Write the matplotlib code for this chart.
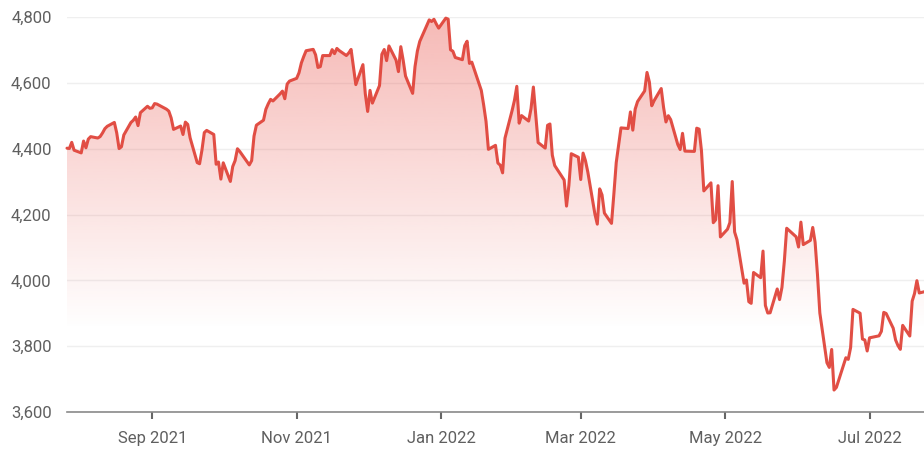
import numpy as np
import pandas as pd
import matplotlib.pyplot as plt
import matplotlib.dates as mdates
from matplotlib.colors import to_rgb

# daily closes, grouped by month
jul_2021 = [4401.46, 4400.64, 4419.15, 4395.26]
aug_2021 = [4387.16, 4423.15, 4402.66, 4429.10, 4436.52, 4432.35, 4436.75, 4447.70,
            4460.83, 4468.00, 4479.71, 4448.08, 4400.27, 4405.80, 4441.67, 4479.53,
            4486.23, 4496.19, 4470.00, 4509.37, 4528.79, 4522.68]
sep_2021 = [4524.09, 4536.95, 4535.43, 4520.03, 4514.07, 4493.28, 4458.58, 4468.73,
            4443.05, 4480.70, 4473.75, 4432.99, 4357.73, 4354.19, 4395.64, 4448.98,
            4455.48, 4443.11, 4352.63, 4359.46, 4307.54]
oct_2021 = [4357.04, 4300.46, 4345.72, 4363.55, 4399.76, 4391.34, 4361.19, 4350.65,
            4363.80, 4438.26, 4471.37, 4486.46, 4519.63, 4536.19, 4549.78, 4544.90,
            4566.48, 4574.79, 4551.68, 4596.42, 4605.38]
nov_2021 = [4613.67, 4630.65, 4660.57, 4680.06, 4697.53, 4701.70, 4685.25, 4646.71,
            4649.27, 4682.85, 4682.80, 4700.90, 4688.67, 4704.54, 4697.96, 4682.94,
            4690.70, 4701.46, 4594.62, 4655.27, 4567.00]
dec_2021 = [4513.04, 4577.10, 4538.43, 4591.67, 4686.75, 4701.21, 4667.45, 4712.02,
            4668.97, 4634.09, 4709.85, 4668.67, 4620.64, 4568.02, 4649.23, 4696.56,
            4725.79, 4791.19, 4786.35, 4793.06, 4778.73, 4766.18]
jan_2022 = [4796.56, 4793.54, 4700.58, 4696.05, 4677.03, 4670.29, 4713.07, 4726.35,
            4659.03, 4662.85, 4577.11, 4532.76, 4482.73, 4397.94, 4410.13, 4356.45,
            4349.93, 4326.51, 4431.85, 4515.55]
feb_2022 = [4546.54, 4589.38, 4477.44, 4500.53, 4483.87, 4521.54, 4587.18, 4504.08,
            4418.64, 4401.67, 4471.07, 4475.01, 4380.26, 4348.87, 4304.76, 4225.50,
            4288.70, 4384.65, 4373.94]
mar_2022 = [4306.26, 4386.54, 4363.49, 4328.87, 4201.09, 4170.70, 4277.88, 4259.52,
            4204.31, 4173.11, 4262.45, 4357.86, 4411.67, 4463.12, 4461.18, 4511.61,
            4456.24, 4520.16, 4543.06, 4575.52, 4631.60, 4602.45, 4530.41]
apr_2022 = [4545.86, 4582.64, 4525.12, 4481.15, 4500.21, 4488.28, 4412.53, 4397.45,
            4446.59, 4392.59, 4391.69, 4462.21, 4459.45, 4393.66, 4271.78, 4296.12,
            4175.20, 4183.96, 4287.50, 4131.93]
may_2022 = [4155.38, 4175.48, 4300.17, 4146.87, 4123.34, 3991.24, 4001.05, 3935.18,
            3930.08, 4023.89, 4008.01, 4088.85, 3923.68, 3900.79, 3901.36, 3973.75,
            3941.48, 3978.73, 4057.84, 4158.24, 4132.15]
jun_2022 = [4101.23, 4176.82, 4108.54, 4121.43, 4160.68, 4115.77, 4017.82, 3900.86,
            3749.63, 3735.48, 3789.99, 3666.77, 3674.84, 3764.79, 3759.89, 3795.73,
            3911.74, 3900.11, 3821.55, 3818.83, 3785.38]
jul_2022 = [3825.33, 3831.39, 3845.08, 3902.62, 3899.38, 3854.43, 3818.80, 3801.78,
            3790.38, 3863.16, 3830.85, 3936.69, 3959.90, 3998.95, 3961.63, 3966.84,
            3921.05, 4023.61]

# trading days (market holidays removed)
holidays = ['2021-09-06', '2021-11-25', '2021-12-24', '2022-01-17', '2022-02-21',
            '2022-04-15', '2022-05-30', '2022-06-20', '2022-07-04']
days = pd.bdate_range('2021-07-27', '2022-07-27')
days = days[~days.isin(pd.to_datetime(holidays))]

closes = np.array(jul_2021 + aug_2021 + sep_2021 + oct_2021 + nov_2021 + dec_2021 +
                  jan_2022 + feb_2022 + mar_2022 + apr_2022 + may_2022 + jun_2022 + jul_2022)
x = mdates.date2num(days.to_pydatetime())

y_ticks = [3600, 3800, 4000, 4200, 4400, 4600, 4800]
y_labels = ['3,600', '3,800', '4,000', '4,200', '4,400', '4,600', '4,800']

plt.rcParams['font.family'] = ['Roboto', 'DejaVu Sans']

line_color = '#e0453b'
fig = plt.figure(figsize=(9.24, 4.58), dpi=100)
ax = fig.add_axes([67 / 924, 1 - 412 / 458, 1 - 67 / 924, 395 / 458])

y_min, y_max = 3600, 4800
x_lo = x[0]
x_hi = mdates.date2num(pd.Timestamp('2022-07-24'))

# gradient under the line: pink at the top fading to white near the bottom
h = 300
rows = np.linspace(y_min, y_max, h)
alpha = np.clip((rows - 3850) / (y_max - 3850), 0, 1) * 0.42
grad = np.zeros((h, 1, 4))
grad[:, 0, :3] = to_rgb('#ea5a52')
grad[:, 0, 3] = alpha
img = ax.imshow(grad, extent=[x[0], x[-1], y_min, y_max], origin='lower',
                aspect='auto', interpolation='bilinear', zorder=1)
area = ax.fill_between(x, closes, y_min, color='none', lw=0)
img.set_clip_path(area.get_paths()[0], transform=ax.transData)

ax.plot(x, closes, color=line_color, lw=2.2, zorder=3, clip_on=False,
        solid_joinstyle='round', solid_capstyle='round', alpha=0.95)

ax.set_xlim(x_lo, x_hi)
ax.set_ylim(y_min, y_max)

ax.set_yticks(y_ticks)
ax.set_yticklabels(y_labels)
ax.grid(axis='y', color='#efefef', lw=1)
ax.set_axisbelow(True)

ax.xaxis.set_major_locator(mdates.MonthLocator(bymonth=[1, 3, 5, 7, 9, 11]))
ax.xaxis.set_major_formatter(mdates.DateFormatter('%b %Y'))

for s in ['top', 'right', 'left']:
    ax.spines[s].set_visible(False)
ax.spines['bottom'].set_color('#8a8a8a')
ax.spines['bottom'].set_linewidth(1.2)

ax.tick_params(axis='y', length=0, pad=11, labelsize=12, labelcolor='#5f5f5f')
ax.tick_params(axis='x', length=5, width=1.5, color='#666666', pad=9,
               labelsize=12, labelcolor='#5f5f5f')

fig.savefig('out.png', dpi=100)
